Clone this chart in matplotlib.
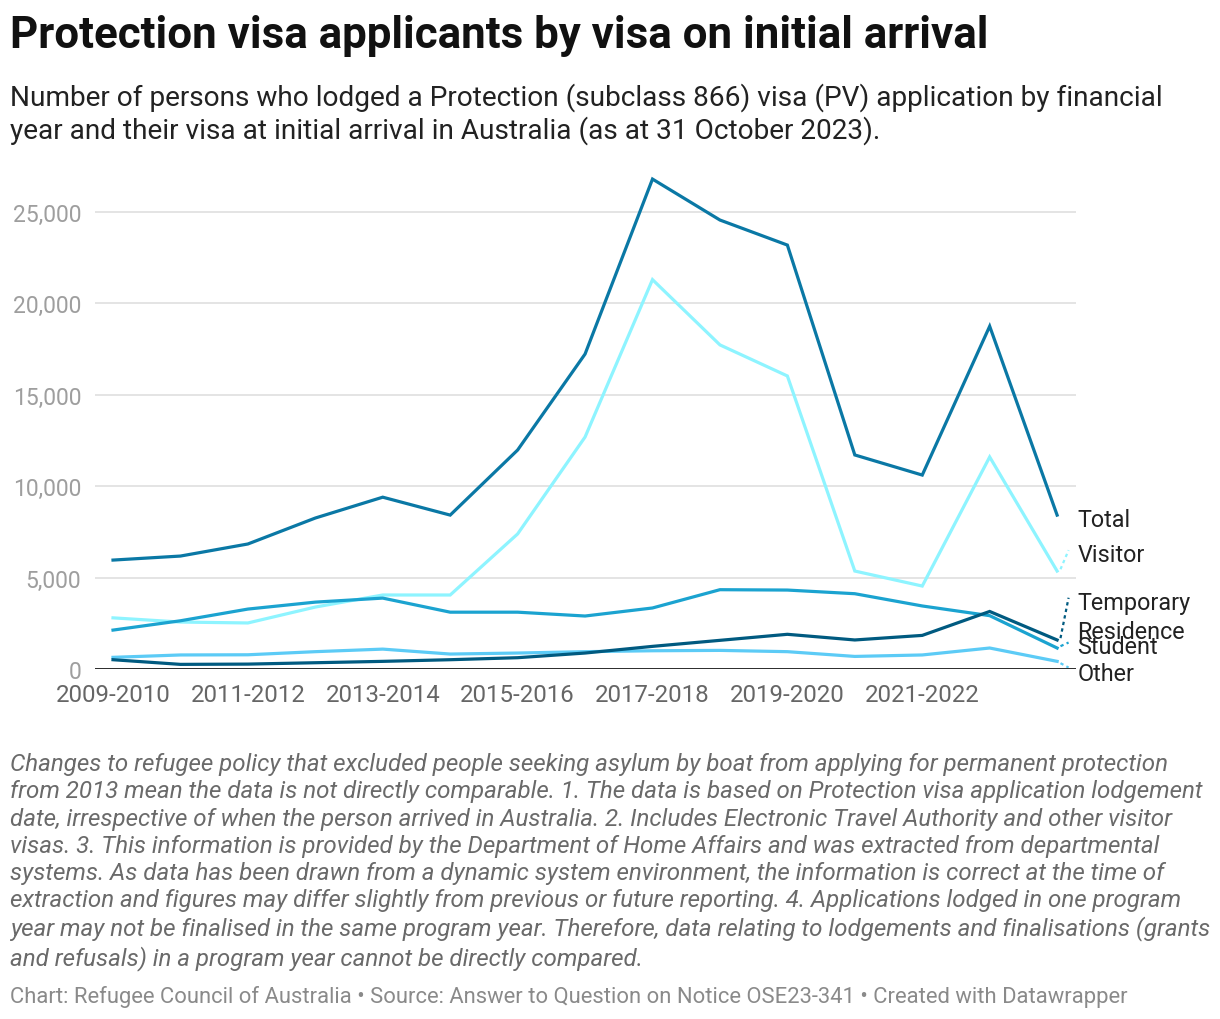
import matplotlib.pyplot as plt
from matplotlib.ticker import FuncFormatter

# --- data ---
years = ["2009-2010", "2010-2011", "2011-2012", "2012-2013", "2013-2014",
         "2014-2015", "2015-2016", "2016-2017", "2017-2018", "2018-2019",
         "2019-2020", "2020-2021", "2021-2022", "2022-2023", "2023-2024"]

total = [5960, 6180, 6840, 8260, 9400, 8420, 11980, 17230, 26800, 24560,
         23190, 11710, 10610, 18750, 8420]
visitor = [2800, 2570, 2520, 3390, 4050, 4050, 7390, 12690, 21300, 17730,
           16030, 5360, 4540, 11600, 5360]
student = [2130, 2640, 3280, 3660, 3880, 3110, 3110, 2900, 3340, 4340,
           4320, 4120, 3450, 2920, 1150]
temp_res = [510, 255, 270, 345, 420, 510, 620, 875, 1240, 1570,
            1900, 1590, 1840, 3150, 1590]
other = [640, 770, 780, 950, 1090, 820, 875, 950, 1000, 1020,
         950, 690, 770, 1150, 420]

y_ticks = [0, 5000, 10000, 15000, 20000, 25000]

plt.rcParams['font.family'] = ['Roboto', 'DejaVu Sans']

fig = plt.figure(figsize=(12.2, 10.2), dpi=100)
# axes spans x 95..1076 px, y 167..670 px
ax = fig.add_axes([95 / 1220, 0.3431, (1076 - 95) / 1220, 0.4929])

x = list(range(len(years)))

series = [
    ("Visitor", visitor, "#8ef4ff"),
    ("Student", student, "#1ba3d0"),
    ("Other", other, "#5ccbf6"),
    ("Temporary Residence", temp_res, "#005a80"),
    ("Total", total, "#0a78a5"),
]
for name, vals, col in series:
    ax.plot(x, vals, color=col, lw=2.3, solid_joinstyle='miter', zorder=3)

ax.set_xlim(-0.267, 14.28)
ax.set_ylim(0, 27500)

# grid + baseline
ax.set_yticks(y_ticks)
ax.yaxis.set_major_formatter(FuncFormatter(lambda v, p: f"{int(v):,}"))
ax.grid(axis='y', color='#e2e2e2', lw=1.3, zorder=0)
ax.axhline(0, color='#1a1a1a', lw=2, zorder=4)
for s in ax.spines.values():
    s.set_visible(False)
ax.tick_params(axis='y', length=0, pad=10, labelsize=16.5, labelcolor='#9e9e9e')
ax.tick_params(axis='x', length=0, pad=10, labelsize=17.3, labelcolor='#666666')
ax.set_xticks(x[::2][:-1])
ax.set_xticklabels(years[::2][:-1])

# end labels with dotted connectors
lbl = dict(fontsize=16.8, color='#222222', va='center', ha='left', clip_on=False)
ax.text(14.3, 8200, "Total", **lbl)
ax.text(14.3, 6240, "Visitor", **lbl)
ax.text(14.3, 2840, "Temporary\nResidence", linespacing=1.3, **lbl)
ax.text(14.3, 1260, "Student", **lbl)
ax.text(14.3, -220, "Other", **lbl)

conn = [
    (visitor[-1], 6500, "#8ef4ff"),
    (temp_res[-1], 3900, "#005a80"),
    (student[-1], 1450, "#1ba3d0"),
    (other[-1], 80, "#5ccbf6"),
]
for y0, y1, col in conn:
    ax.plot([14.05, 14.17], [y0 + 100 if y1 > y0 else y0 - 100, y1],
            color=col, lw=1.6, ls=(0, (1.5, 1.5)), clip_on=False, zorder=3)

# titles
fig.text(0.008, 0.965, "Protection visa applicants by visa on initial arrival",
         fontsize=31.6, fontweight='bold', color='#111111', va='center')
fig.text(0.008, 0.888,
         "Number of persons who lodged a Protection (subclass 866) visa (PV) application by financial\n"
         "year and their visa at initial arrival in Australia (as at 31 October 2023).",
         fontsize=20.2, color='#222222', va='center', linespacing=1.2)

note = ("Changes to refugee policy that excluded people seeking asylum by boat from applying for permanent protection\n"
        "from 2013 mean the data is not directly comparable. 1. The data is based on Protection visa application lodgement\n"
        "date, irrespective of when the person arrived in Australia. 2. Includes Electronic Travel Authority and other visitor\n"
        "visas. 3. This information is provided by the Department of Home Affairs and was extracted from departmental\n"
        "systems. As data has been drawn from a dynamic system environment, the information is correct at the time of\n"
        "extraction and figures may differ slightly from previous or future reporting. 4. Applications lodged in one program\n"
        "year may not be finalised in the same program year. Therefore, data relating to lodgements and finalisations (grants\n"
        "and refusals) in a program year cannot be directly compared.")
fig.text(0.008, 0.2615, note, fontsize=17.4, style='italic', color='#6a6a6a',
         va='top', linespacing=1.23)
fig.text(0.008, 0.0225,
         "Chart: Refugee Council of Australia \u2022 Source: Answer to Question on Notice OSE23-341 \u2022 Created with Datawrapper",
         fontsize=15.8, color='#8a8a8a', va='center')

fig.savefig("out.png", dpi=100)
